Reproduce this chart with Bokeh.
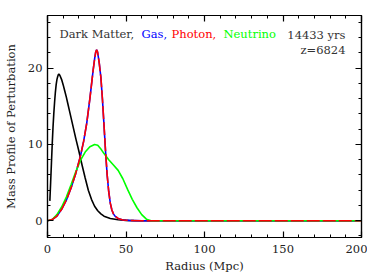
from bokeh.plotting import figure
from bokeh.models import Range1d, SingleIntervalTicker, LinearAxis, Label, CustomJSTickFormatter
from bokeh.embed import file_html
from bokeh.resources import INLINE

# Dark matter
dm_r = [1.5, 2.0, 2.5, 3.0, 3.5, 4.0, 4.5, 5.0, 5.5, 6.0, 6.5, 7.0, 7.5, 8.0, 9.0,
        10, 11, 12, 13, 14, 16, 18, 20, 22, 24, 26, 28, 30, 32, 34, 36, 40, 45, 50, 55, 60, 200]
dm_v = [2.6, 5.0, 7.5, 10.0, 12.2, 14.0, 15.5, 16.8, 17.8, 18.5, 18.9, 19.2, 19.2, 19.0, 18.5,
        17.8, 17.0, 16.2, 15.3, 14.4, 12.6, 10.8, 9.1, 7.3, 5.6, 4.0, 2.8, 1.9, 1.3, 0.9, 0.6, 0.3, 0.12, 0.04, 0.01, 0, 0]

# Gas and photon
ph_r = [0, 3, 6, 9, 12, 15, 18, 21, 23, 25, 27, 28, 29, 30, 30.7, 31.3, 31.9, 32.5,
        33, 34, 35, 36, 37, 38, 39, 40, 41, 42, 43, 45, 48, 52, 60, 200]
gas_v = [0, 0.15, 0.6, 1.5, 2.7, 4.3, 6.2, 8.5, 10.4, 12.8, 16.0, 17.8, 19.6, 21.2, 22.1, 22.4, 22.1, 21.3,
         20.6, 18.8, 15.9, 12.5, 9.0, 6.0, 3.8, 2.3, 1.4, 0.9, 0.6, 0.3, 0.1, 0.04, 0, 0]
ph_v = [0, 0.15, 0.6, 1.5, 2.7, 4.3, 6.2, 8.5, 10.4, 12.8, 16.0, 17.8, 19.6, 21.2, 22.1, 22.4, 22.1, 21.3,
        20.6, 18.8, 15.9, 12.5, 9.0, 6.0, 3.8, 2.3, 1.4, 0.9, 0.6, 0.3, 0.1, 0.04, 0, 0]

# Neutrino
nu_r = [0, 3, 6, 9, 12, 15, 18, 21, 24, 27, 30, 32, 34, 36, 39, 42, 45, 48, 51, 54, 57, 60, 63, 66, 200]
nu_v = [0, 0.15, 0.8, 1.8, 3.1, 4.7, 6.4, 7.9, 9.0, 9.7, 10.0, 9.9, 9.4, 8.8, 8.0, 7.3, 6.6, 5.5,
        4.1, 2.8, 1.7, 0.8, 0.2, 0, 0]

FONT = "DejaVu Serif"
TXT = "#222222"

p = figure(frame_width=314, frame_height=222, x_range=Range1d(0, 200), y_range=Range1d(-2.2, 26.9),
           output_backend="svg", toolbar_location=None,
           min_border_left=38, min_border_right=6, min_border_top=15, min_border_bottom=33,
           x_axis_type=None, y_axis_type=None)
p.grid.visible = False
p.outline_line_color = "black"
p.outline_line_width = 1.2
p.background_fill_color = "white"
p.border_fill_color = "white"

xt = SingleIntervalTicker(interval=50, num_minor_ticks=5)
yt = SingleIntervalTicker(interval=10, num_minor_ticks=5)


def style(ax, labels=True):
    ax.major_tick_in = 6
    ax.major_tick_out = 0
    ax.minor_tick_in = 3
    ax.minor_tick_out = 0
    ax.axis_line_color = "black"
    ax.major_tick_line_color = "black"
    ax.minor_tick_line_color = "black"
    ax.axis_line_width = 1.2
    ax.major_tick_line_width = 1.2
    ax.minor_tick_line_width = 1.0
    if labels:
        ax.major_label_text_font = FONT
        ax.major_label_text_font_size = "11.5px"
        ax.major_label_text_color = TXT
        ax.axis_label_text_font = FONT
        ax.axis_label_text_font_size = "11.5px"
        ax.axis_label_text_font_style = "normal"
        ax.axis_label_text_color = TXT
    else:
        ax.formatter = CustomJSTickFormatter(code="return ''")
        ax.major_label_standoff = 0


xb = LinearAxis(ticker=xt, axis_label="Radius (Mpc)")
style(xb)
xb.major_label_standoff = 7
xb.axis_label_standoff = 3
p.add_layout(xb, "below")

yl = LinearAxis(ticker=yt, axis_label="Mass Profile of Perturbation")
style(yl)
yl.major_label_standoff = 5
yl.axis_label_standoff = 7
p.add_layout(yl, "left")

xa = LinearAxis(ticker=xt)
style(xa, labels=False)
p.add_layout(xa, "above")

yr = LinearAxis(ticker=yt)
style(yr, labels=False)
p.add_layout(yr, "right")

p.line(dm_r, dm_v, line_color="black", line_width=1.6)
p.line(ph_r, gas_v, line_color="#0000ff", line_width=1.6)
p.line(nu_r, nu_v, line_color="#00ff00", line_width=1.6)
p.line(ph_r, ph_v, line_color="#ff0000", line_width=1.6, line_dash="13 3")

words = [("Dark Matter,", "#333333", 7.6), ("Gas,", "#0000ff", 59.9),
         ("Photon,", "#ff0000", 79.0), ("Neutrino", "#00ff00", 112.1)]
for t, c, xx in words:
    p.add_layout(Label(x=xx, y=24.5, text=t, text_color=c, text_font=FONT,
                       text_font_size="11.5px", text_baseline="alphabetic"))
p.add_layout(Label(x=189.8, y=24.3, text="14433 yrs", text_color="#333333", text_font=FONT,
                   text_font_size="11.5px", text_align="right", text_baseline="alphabetic"))
p.add_layout(Label(x=189.8, y=22.4, text="z=6824", text_color="#333333", text_font=FONT,
                   text_font_size="11.5px", text_align="right", text_baseline="alphabetic"))

open("out.html", "w").write(file_html(p, INLINE))
